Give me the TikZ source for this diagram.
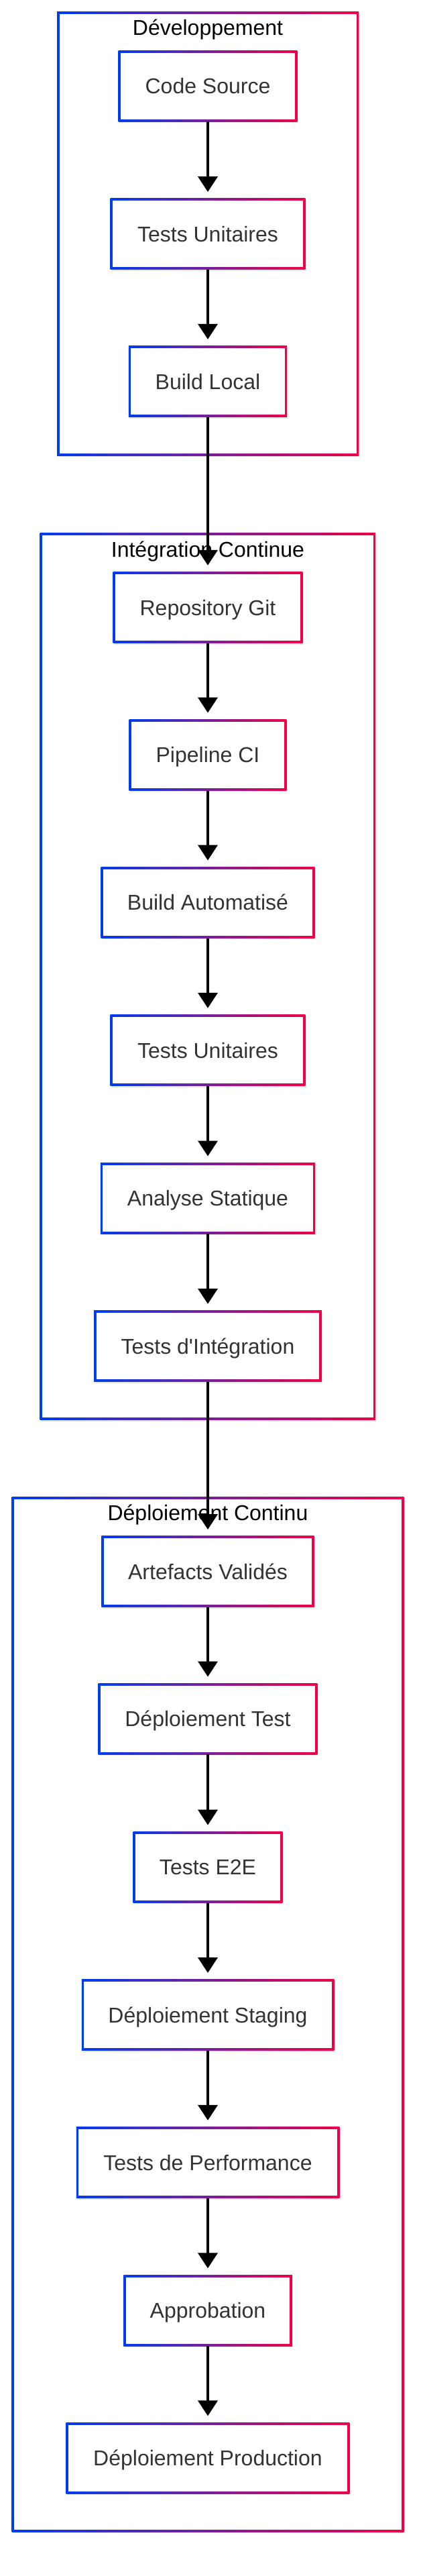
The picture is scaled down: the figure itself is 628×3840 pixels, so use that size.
\documentclass[tikz,border=0pt]{standalone}
\usepackage{fontspec}
\setmainfont{Liberation Sans}[Ligatures=TeXOff]
\usetikzlibrary{arrows.meta,shadows}
\definecolor{cblue}{RGB}{0,60,240}
\definecolor{cred}{RGB}{240,0,70}
\definecolor{ctext}{RGB}{51,51,51}
\tikzset{
  gframe/.style={path picture={
    \shade[left color=cblue,right color=cred]
      (path picture bounding box.south west) rectangle (path picture bounding box.north east);
    \fill[white]
      ([shift={(#1,#1)}]path picture bounding box.south west) rectangle
      ([shift={(-#1,-#1)}]path picture bounding box.north east);
  }},
  softshadow/.style={drop shadow={shadow xshift=1.5pt,shadow yshift=-2pt,opacity=0.10,fill=black}},
  stepbox/.style={gframe=3.5pt, softshadow, rectangle, inner sep=0pt, minimum height=106pt,
    text=ctext, font=\fontsize{32}{38}\selectfont, text height=23pt, text depth=0pt},
  clusterbox/.style={gframe=3.5pt, softshadow, rectangle, inner sep=0pt},
  ctitle/.style={anchor=base, inner sep=0pt, text=black, font=\fontsize{32}{38}\selectfont},
  flow/.style={line width=4pt, -{Triangle[width=29pt,length=23pt]}, shorten >=9.5pt}
}
\begin{document}
\begin{tikzpicture}[x=1pt,y=1pt]
\useasboundingbox (0,0) rectangle (628,-3840);
\fill[white] (0,0) rectangle (628,-3840);
% clusters
\node[clusterbox, minimum width=450pt, minimum height=661.7pt] (dev) at (310,-348.45) {};
\node[clusterbox, minimum width=500.5pt, minimum height=1322.7pt] (ci) at (309.75,-1455.35) {};
\node[clusterbox, minimum width=584.7pt, minimum height=1542.8pt] (cd) at (309.95,-3003) {};
\node[ctitle] (tdev) at (310,-53) {Développement};
\node[ctitle] (tci) at (310,-830) {Intégration Continue};
\node[ctitle] (tcd) at (310,-2266.5) {Déploiement Continu};
% steps
\node[stepbox, minimum width=266.7pt] (n1) at (310,-128.2) {Code Source};
\node[stepbox, minimum width=290.7pt] (n2) at (310,-348.8) {Tests Unitaires};
\node[stepbox, minimum width=236.2pt] (n3) at (310,-568.5) {Build Local};
\node[stepbox, minimum width=282.7pt] (n4) at (310,-905.5) {Repository Git};
\node[stepbox, minimum width=234.7pt] (n5) at (310,-1125.3) {Pipeline CI};
\node[stepbox, minimum width=318.8pt] (n6) at (310,-1345.3) {Build Automatisé};
\node[stepbox, minimum width=290.7pt] (n7) at (310,-1565.5) {Tests Unitaires};
\node[stepbox, minimum width=320.4pt] (n8) at (310,-1786.2) {Analyse Statique};
\node[stepbox, minimum width=339.6pt] (n9) at (310,-2006.5) {Tests d'Intégration};
\node[stepbox, minimum width=317.2pt] (n10) at (310,-2342.7) {Artefacts Validés};
\node[stepbox, minimum width=326.8pt] (n11) at (310,-2562.2) {Déploiement Test};
\node[stepbox, minimum width=222.7pt] (n12) at (310,-2783.3) {Tests E2E};
\node[stepbox, minimum width=376.5pt] (n13) at (310,-3003.6) {Déploiement Staging};
\node[stepbox, minimum width=392.5pt] (n14) at (310,-3223.5) {Tests de Performance};
\node[stepbox, minimum width=251.5pt] (n15) at (310,-3444) {Approbation};
\node[stepbox, minimum width=422.9pt] (n16) at (310,-3664.1) {Déploiement Production};
% connectors
\foreach \a/\b in {n1/n2,n2/n3,n3/n4,n4/n5,n5/n6,n6/n7,n7/n8,n8/n9,n9/n10,n10/n11,n11/n12,n12/n13,n13/n14,n14/n15,n15/n16}
  \draw[flow] (\a.south) -- (\b.north);
\end{tikzpicture}
\end{document}
